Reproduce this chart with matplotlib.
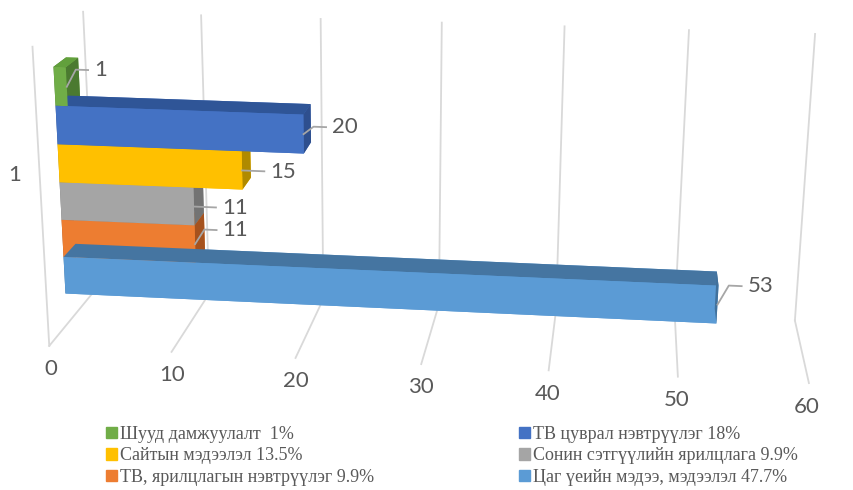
import numpy as np
import matplotlib.pyplot as plt
from matplotlib.patches import Patch

# data (top to bottom as drawn)
labels = ['Шууд дамжуулалт  1%', 'ТВ цуврал нэвтрүүлэг 18%', 'Сайтын мэдээлэл 13.5%',
          'Сонин сэтгүүлийн ярилцлага 9.9%', 'ТВ, ярилцлагын нэвтрүүлэг 9.9%',
          'Цаг үеийн мэдээ, мэдээлэл 47.7%']
values = [1, 20, 15, 11, 11, 53]
category = ['1']
ticks = [0, 10, 20, 30, 40, 50, 60]

front_c = ['#70AD47', '#4472C4', '#FFC000', '#A5A5A5', '#ED7D31', '#5B9BD5']
top_c = ['#62A03C', '#2F5597', '#C99A00', '#8C8C8C', '#B8611F', '#4575A1']
side_c = ['#4B7A30', '#2E4F8E', '#B08A00', '#737373', '#A5521E', '#41719C']
rise = [0.058, 0.026, 0.0, 0.0, 0.052, 0.067]

grid_c = '#D9D9D9'
txt_c = '#595959'

fig = plt.figure(figsize=(8.54, 4.9), dpi=100)
# square drawing area as wide as the figure
ax = fig.add_axes([-0.008, -0.283, 1.0, 1.743], projection='3d', computed_zorder=False)
ax.set_proj_type('persp', focal_length=0.4)
ax.set_box_aspect((2.45, 0.55, 1.0), zoom=0.94)
ax.view_init(elev=17, azim=-84, roll=-0.5)
ax.set_xlim(0, 60)
ax.set_ylim(0, 1)
ax.set_zlim(0, 1)
ax.set_axis_off()

# walls / gridlines
for v in ticks:
    ax.plot([v, v], [1, 1], [0, 1], color=grid_c, lw=1.3, zorder=1)
    ax.plot([v, v], [0, 1], [0, 0], color=grid_c, lw=1.3, zorder=1)
    ax.text(v, 0, -0.08, str(v), color=txt_c, fontsize=16, ha='center', va='center',
            family='Lato', zorder=5)
ax.plot([0, 0], [0, 0], [0, 1], color=grid_c, lw=1.3, zorder=1)
ax.text(-2.0, 0.0, 0.58, category[0], color=txt_c, fontsize=16, ha='center', va='center',
        family='Lato', zorder=5)

# bars
n = len(values)
h = 0.13
y0, dy = 0.36, 0.25
z0 = 0.11
xs, ys, zs, dxs, dys, dzs, cols = [], [], [], [], [], [], []
for i, v in enumerate(values):
    z = z0 + (n - 1 - i) * h
    xs.append(0); ys.append(y0); zs.append(z)
    dxs.append(v); dys.append(dy); dzs.append(h)
    # faces: -z, +z, -y, +y, -x, +x
    cols += [front_c[i], top_c[i], front_c[i], front_c[i], side_c[i], side_c[i]]
ax.bar3d(xs, ys, zs, dxs, dys, dzs, color=cols, shade=False, zorder=2, edgecolor='none')

# data labels with leader lines
for i, v in enumerate(values):
    zm = z0 + (n - 1 - i) * h + h / 2
    zr = zm + rise[i]
    ax.plot([v, v + 0.8, v + 1.8], [y0, y0, y0], [zm, zr, zr], color='#A6A6A6', lw=1.3, zorder=3)
    ax.text(v + 2.3, y0, zr, str(v), color=txt_c, fontsize=16, ha='left', va='center',
            family='Lato', zorder=5)

handles = [Patch(color=front_c[i], label=labels[i]) for i in [0, 2, 4, 1, 3, 5]]
fig.legend(handles=handles, loc='lower left', bbox_to_anchor=(0.105, -0.025), ncol=2,
           frameon=False, prop={'family': 'Liberation Serif', 'size': 13},
           handlelength=0.6, handleheight=0.6, handletextpad=0.2, columnspacing=8.0,
           labelspacing=0.25, labelcolor=txt_c)

fig.savefig('out.png', dpi=100)
